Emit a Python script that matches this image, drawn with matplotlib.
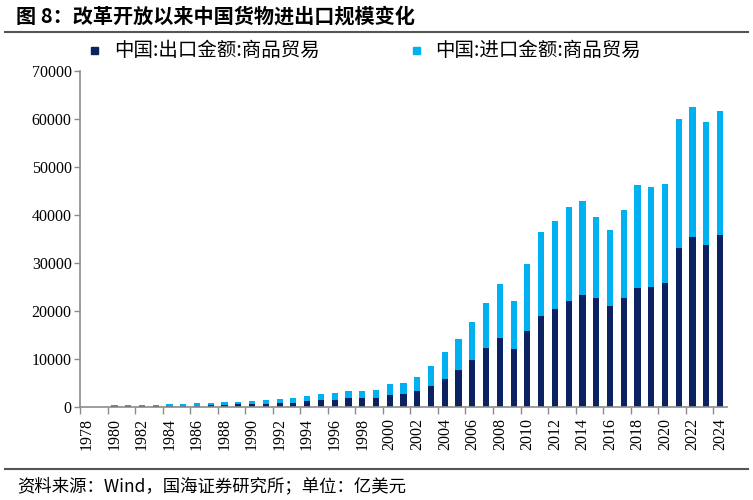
import numpy as np
import matplotlib.pyplot as plt
from matplotlib.lines import Line2D

plt.rcParams['font.family'] = ['Noto Sans CJK SC', 'DejaVu Sans']

# 中国货物进出口（亿美元），1978-1979 无数据
years = list(range(1978, 2025))
exports = [np.nan, np.nan,
           181, 220, 223, 222, 261, 274, 309, 394, 475, 525,
           621, 719, 849, 917, 1210, 1488, 1511, 1828, 1837, 1949,
           2492, 2661, 3256, 4382, 5933, 7620, 9690, 12201, 14307, 12016,
           15778, 18984, 20487, 22090, 23423, 22735, 20976, 22635, 24867, 24995,
           25900, 33200, 35400, 33800, 35800]
imports = [np.nan, np.nan,
           200, 220, 193, 214, 274, 423, 429, 432, 553, 591,
           534, 638, 806, 1040, 1156, 1321, 1388, 1424, 1402, 1657,
           2251, 2436, 2952, 4128, 5612, 6600, 7915, 9561, 11326, 10059,
           13962, 17435, 18184, 19500, 19592, 16796, 15879, 18438, 21357, 20784,
           20660, 26700, 27100, 25600, 25800]

label_export = "中国:出口金额:商品贸易"
label_import = "中国:进口金额:商品贸易"
dark = "#0B2160"
light = "#00B0F0"
axis_grey = "#8C8C8C"

fig = plt.figure(figsize=(7.53, 5), dpi=100)
ax = fig.add_axes([80 / 753, 93 / 500, 647 / 753, 336 / 500])

x = np.arange(len(years))
exp = np.array(exports, dtype=float)
imp = np.array(imports, dtype=float)
ax.bar(x, exp, width=0.45, color=dark, label=label_export)
ax.bar(x, imp, width=0.45, bottom=exp, color=light, label=label_import)

ax.set_xlim(-0.5, len(years) - 0.5)
ax.set_ylim(0, 70000)
ax.set_yticks(range(0, 70001, 10000))

# labels on even years, tick marks on boundaries every two years
ax.set_xticks(x[::2])
ax.set_xticklabels([str(y) for y in years[::2]], rotation=90)
ax.set_xticks(np.arange(-0.5, len(years) - 1, 2), minor=True)
ax.tick_params(axis='x', which='major', length=0, pad=8)
ax.tick_params(axis='x', which='minor', length=5, color=axis_grey, width=1)
ax.tick_params(axis='y', length=4, color=axis_grey, width=1, pad=2)
ax.tick_params(axis='both', labelsize=11.5, labelfontfamily='Liberation Serif')

for s in ['top', 'right']:
    ax.spines[s].set_visible(False)
for s in ['left', 'bottom']:
    ax.spines[s].set_color(axis_grey)
    ax.spines[s].set_linewidth(1.2)

# legend
fig.patches.append(plt.Rectangle((91 / 753, 1 - 54 / 500), 7 / 753, 7 / 500,
                                 transform=fig.transFigure, color=dark))
fig.text(114 / 753, 1 - 50 / 500, label_export, fontsize=14, va='center', ha='left')
fig.patches.append(plt.Rectangle((413 / 753, 1 - 54 / 500), 7 / 753, 7 / 500,
                                 transform=fig.transFigure, color=light))
fig.text(435 / 753, 1 - 50 / 500, label_import, fontsize=14, va='center', ha='left')

# title and source
fig.text(16 / 753, 1 - 16.5 / 500, "图 8：改革开放以来中国货物进出口规模变化",
         fontsize=14.5, fontweight='bold', va='center', ha='left')
fig.lines.append(Line2D([5 / 753, 748 / 753], [1 - 32 / 500, 1 - 32 / 500],
                        transform=fig.transFigure, color="#555555", lw=1.5))
fig.lines.append(Line2D([5 / 753, 748 / 753], [1 - 469 / 500, 1 - 469 / 500],
                        transform=fig.transFigure, color="#555555", lw=1.5))
fig.text(17 / 753, 1 - 486.5 / 500, "资料来源：Wind，国海证券研究所；单位：亿美元",
         fontsize=12.5, va='center', ha='left')

fig.savefig("out.png", dpi=100)
